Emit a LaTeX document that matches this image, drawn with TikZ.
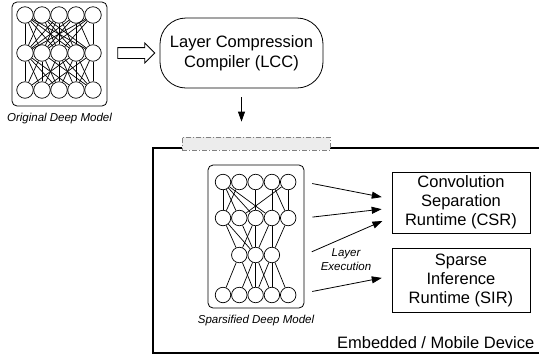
\documentclass[tikz,border=0pt]{standalone}
\usepackage{fontspec}
\setmainfont{Liberation Sans}
\usetikzlibrary{arrows.meta,shapes.arrows}

\begin{document}
\begin{tikzpicture}[x=1pt, y=-1pt, line width=0.7pt,
	neuron/.style={draw, circle, inner sep=0pt, minimum size=16.5pt},
	sneuron/.style={draw, circle, inner sep=0pt, minimum size=15.5pt},
	modelbox/.style={draw, rounded corners=5pt, line width=0.8pt},
	runtime/.style={draw, line width=0.8pt, minimum width=138pt, align=center, font=\fontsize{16.5}{19}\selectfont},
	caption/.style={font=\fontsize{11.5}{14}\selectfont\itshape},
	arr/.style={-{Triangle[length=10pt,width=7pt]}, line width=0.8pt}]
	\useasboundingbox (0,0) rectangle (539,360);
	% Original deep model
	\node[modelbox, minimum width=95pt, minimum height=104pt] (orig) at (59.5,54) {};
	\foreach \i in {1,...,5} {
		\node[neuron] (ot\i) at (8+17*\i,15) {};
		\node[neuron] (om\i) at (8+17*\i,53) {};
		\node[neuron] (ob\i) at (8+17*\i,90) {};
	}
	\foreach \a/\b in {1/1,1/2,1/3,1/4,1/5,2/1,2/3,2/4,2/5,3/1,3/2,3/3,3/4,4/1,4/2,4/4,4/5,5/1,5/2,5/3,5/5} {
		\draw (ot\a) -- (om\b);
	}
	\foreach \a/\b in {1/1,1/2,1/3,1/4,2/1,2/2,2/3,2/5,3/2,3/3,3/4,3/5,4/1,4/3,4/4,4/5,5/2,5/4,5/5} {
		\draw (om\a) -- (ob\b);
	}
	\node[caption] (origlbl) at (59.5,119) {Original Deep Model};
	% Compiler
	\node[draw, single arrow, minimum height=37pt, minimum width=19pt, single arrow head extend=4.5pt, inner xsep=0pt, inner ysep=5pt, line width=0.8pt] (conv) at (133.5,53) {};
	\node[draw, line width=0.8pt, rounded corners=26pt, minimum width=163pt, minimum height=70pt, align=center, font=\fontsize{16.5}{19.5}\selectfont] (lcc) at (241.5,53) {Layer Compression\\Compiler (LCC)};
	% Embedded / mobile device
	\draw[line width=1.7pt] (541,148) -- (153,148) -- (153,353) -- (541,353);
	\node[draw=gray, dash pattern=on 5pt off 2pt on 1pt off 2pt, fill=gray!15, line width=0.8pt, minimum width=148pt, minimum height=13pt, inner sep=0pt] (port) at (256,143.5) {};
	\draw[arr, shorten <=9pt, shorten >=15pt] (lcc.south) -- (lcc.south |- port.north);
	\node[font=\fontsize{16.5}{19.5}\selectfont, anchor=east] (devlbl) at (538,343) {Embedded / Mobile Device};
	% Sparsified deep model
	\node[modelbox, minimum width=96pt, minimum height=143pt] (spm) at (256,236.5) {};
	\foreach \i in {1,...,5} {
		\node[sneuron] (st\i) at (206.7+16.3*\i,182) {};
		\node[sneuron] (sm\i) at (206.7+16.3*\i,218) {};
		\node[sneuron] (sb\i) at (206.7+16.3*\i,295) {};
	}
	\foreach \i in {2,3,4} {
		\node[sneuron] (sh\i) at (206.7+16.3*\i,255) {};
	}
	\foreach \a/\b in {1/1,1/2,1/3,1/4,2/1,3/3,4/4,4/5,5/2,5/5} {
		\draw (st\a) -- (sm\b);
	}
	\foreach \a/\b in {1/2,1/3,2/3,3/2,3/3,4/3,4/4,5/4} {
		\draw (sm\a) -- (sh\b);
	}
	\foreach \a/\b in {2/1,2/3,3/2,3/3,3/4,4/3,4/4,4/5} {
		\draw (sh\a) -- (sb\b);
	}
	\node[caption] (spmlbl) at (256,321) {Sparsified Deep Model};
	% Runtimes
	\node[runtime, minimum height=61pt] (csr) at (461,202.5) {Convolution\\Separation\\Runtime (CSR)};
	\node[runtime, minimum height=64pt] (sir) at (461,280) {Sparse\\Inference\\Runtime (SIR)};
	\draw[arr, shorten <=8pt, shorten >=10pt] (spm.east |- st5) -- ([yshift=3.5pt]csr.west);
	\draw[arr, shorten <=8pt, shorten >=10pt] (spm.east |- sm5) -- ([yshift=-5.5pt]csr.west);
	\draw[arr, shorten <=8pt, shorten >=10pt] (spm.east |- sh4) -- ([yshift=-14.5pt]csr.west);
	\draw[arr, shorten <=8pt, shorten >=10pt] ([yshift=2pt]spm.east |- sb5) -- ([yshift=4pt]sir.west);
	\node[caption, align=center] (exec) at (346,259.5) {Layer\\Execution};
\end{tikzpicture}
\end{document}
